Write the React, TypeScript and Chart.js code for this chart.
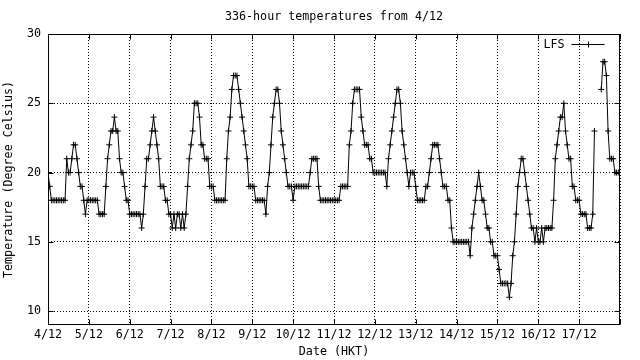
import React, { useEffect, useRef } from "react";
import { Chart, registerables } from "chart.js";

Chart.register(...registerables);

// ---- text ----
const TITLE = "336-hour temperatures from 4/12";
const SERIES_LABEL = "LFS";
const X_TITLE = "Date (HKT)";
const Y_TITLE = "Temperature (Degree Celsius)";

// ---- axes ----
const DATE_LABELS = [
  "4/12", "5/12", "6/12", "7/12", "8/12", "9/12", "10/12",
  "11/12", "12/12", "13/12", "14/12", "15/12", "16/12", "17/12",
];
const HOURS_PER_DAY = 24;
const TOTAL_HOURS = 336;
const Y_MIN = 9;
const Y_MAX = 30;
const Y_TICKS = [10, 15, 20, 25, 30];

// ---- hourly temperatures (deg C), one array per day ----
const T_04_12 = [20, 19, 18, 18, 18, 18, 18, 18, 18, 18, 18, 21, 20, 20, 21, 22, 22, 21, 20, 19, 19, 18, 17, 18];
const T_05_12 = [18, 18, 18, 18, 18, 18, 17, 17, 17, 17, 19, 21, 22, 23, 23, 24, 23, 23, 21, 20, 20, 19, 18, 18];
const T_06_12 = [17, 17, 17, 17, 17, 17, 17, 16, 17, 19, 21, 21, 22, 23, 24, 23, 22, 21, 19, 19, 19, 18, 18, 17];
const T_07_12 = [17, 16, 17, 16, 17, 17, 16, 17, 16, 17, 19, 21, 22, 23, 25, 25, 25, 24, 22, 22, 21, 21, 21, 19];
const T_08_12 = [19, 19, 18, 18, 18, 18, 18, 18, 18, 21, 23, 24, 26, 27, 27, 27, 26, 25, 24, 23, 22, 21, 19, 19];
const T_09_12 = [19, 19, 18, 18, 18, 18, 18, 18, 17, 19, 20, 22, 24, 25, 26, 26, 25, 23, 22, 21, 20, 19, 19, 19];
const T_10_12 = [18, 19, 19, 19, 19, 19, 19, 19, 19, 19, 20, 21, 21, 21, 21, 19, 18, 18, 18, 18, 18, 18, 18, 18];
const T_11_12 = [18, 18, 18, 18, 19, 19, 19, 19, 19, 22, 23, 25, 26, 26, 26, 26, 24, 23, 22, 22, 22, 21, 21, 20];
const T_12_12 = [20, 20, 20, 20, 20, 20, 20, 19, 21, 22, 23, 24, 25, 26, 26, 25, 23, 22, 21, 20, 19, 20, 20, 20];
const T_13_12 = [19, 18, 18, 18, 18, 18, 19, 19, 20, 21, 22, 22, 22, 22, 21, 20, 19, 19, 19, 18, 18, 16, 15, 15];
const T_14_12 = [15, 15, 15, 15, 15, 15, 15, 15, 14, 16, 17, 18, 19, 20, 19, 18, 18, 17, 16, 16, 15, 15, 14, 14];
const T_15_12 = [14, 13, 12, 12, 12, 12, 12, 11, 12, 14, 15, 17, 19, 20, 21, 21, 20, 19, 18, 17, 16, 16, 15, 16];
const T_16_12 = [15, 15, 16, 15, 16, 16, 16, 16, 16, 18, 21, 22, 23, 24, 24, 25, 23, 22, 21, 21, 19, 19, 18, 18];
const T_17_12 = [18, 17, 17, 17, 17, 16, 16, 16, 17, 23, null, null, null, 26, 28, 28, 27, 23, 21, 21, 21, 20, 20, 20, 20];

const LFS_TEMPS: (number | null)[] = [
  ...T_04_12, ...T_05_12, ...T_06_12, ...T_07_12, ...T_08_12, ...T_09_12, ...T_10_12,
  ...T_11_12, ...T_12_12, ...T_13_12, ...T_14_12, ...T_15_12, ...T_16_12, ...T_17_12,
];

const FONT_FAMILY = "'DejaVu Sans Mono', monospace";
const FONT_SIZE = 11.7;

const gnuplotFrame = {
  id: "gnuplotFrame",
  afterDatasetsDraw(chart: any) {
    const { ctx, chartArea, scales } = chart;
    const xs = scales.x;
    const ys = scales.y;
    const L = Math.round(chartArea.left) + 0.5;
    const R = Math.round(chartArea.right) - 0.5;
    const T = Math.round(chartArea.top) + 0.5;
    const B = Math.round(chartArea.bottom) - 0.5;
    const TL = 5;
    ctx.save();
    ctx.setLineDash([]);
    ctx.strokeStyle = "#000";
    ctx.lineWidth = 1;
    ctx.strokeRect(L, T, R - L, B - T);
    ctx.beginPath();
    xs.ticks.forEach((t: any) => {
      const px = Math.round(xs.getPixelForValue(t.value)) + 0.5;
      ctx.moveTo(px, B);
      ctx.lineTo(px, B - TL);
      ctx.moveTo(px, T);
      ctx.lineTo(px, T + TL);
    });
    ys.ticks.forEach((t: any) => {
      const py = Math.round(ys.getPixelForValue(t.value)) + 0.5;
      ctx.moveTo(L, py);
      ctx.lineTo(L + TL, py);
      ctx.moveTo(R, py);
      ctx.lineTo(R - TL, py);
    });
    ctx.stroke();

    // key (legend), gnuplot style: label then sample line with point
    const ds = chart.data.datasets[0];
    const ky = Math.round(T + 9) + 0.5;
    ctx.fillStyle = "#000";
    ctx.font = `${FONT_SIZE}px ${FONT_FAMILY}`;
    ctx.textAlign = "right";
    ctx.textBaseline = "middle";
    ctx.fillText(ds.label, R - 55, ky);
    const x1 = R - 48;
    const x2 = R - 15;
    const xm = Math.round((x1 + x2) / 2) + 0.5;
    ctx.beginPath();
    ctx.moveTo(x1, ky);
    ctx.lineTo(x2, ky);
    ctx.moveTo(xm, ky - 3);
    ctx.lineTo(xm, ky + 3);
    ctx.stroke();
    ctx.restore();
  },
};

export default function App() {
  const canvasRef = useRef<HTMLCanvasElement | null>(null);

  useEffect(() => {
    const canvas = canvasRef.current;
    if (!canvas) return;
    const font = { family: FONT_FAMILY, size: FONT_SIZE, weight: "normal" as const };
    const chart = new Chart(canvas, {
      type: "line",
      data: {
        datasets: [
          {
            label: SERIES_LABEL,
            data: LFS_TEMPS.map((v, i) => ({ x: i, y: v })) as any,
            borderColor: "#000",
            backgroundColor: "#000",
            borderWidth: 1,
            pointStyle: "cross",
            pointRadius: 3,
            pointHoverRadius: 3,
            pointBorderWidth: 1,
            pointBorderColor: "#000",
            tension: 0,
            spanGaps: false,
            fill: false,
          },
        ],
      },
      options: {
        responsive: false,
        animation: false,
        devicePixelRatio: 1,
        events: [],
        layout: { padding: { left: 0, right: 20, top: 0, bottom: 0 } },
        plugins: {
          legend: { display: false },
          tooltip: { enabled: false },
          title: {
            display: true,
            text: TITLE,
            color: "#000",
            font,
            fullSize: false,
            padding: { top: 10, bottom: 9.96 },
          },
        },
        scales: {
          x: {
            type: "linear",
            min: 0,
            max: TOTAL_HOURS,
            afterBuildTicks: (s: any) => {
              const ticks = [];
              for (let v = 0; v <= TOTAL_HOURS; v += HOURS_PER_DAY) ticks.push({ value: v });
              s.ticks = ticks;
            },
            afterFit: (s: any) => {
              s.height = 35;
            },
            grid: { color: "#000", lineWidth: 1, drawTicks: false },
            border: { display: false, dash: [1, 2] },
            ticks: {
              autoSkip: false,
              maxRotation: 0,
              minRotation: 0,
              padding: 3,
              color: "#000",
              font,
              callback: (v: any) => DATE_LABELS[Math.round(Number(v) / HOURS_PER_DAY)] ?? "",
            },
            title: {
              display: true,
              text: X_TITLE,
              color: "#000",
              font,
              padding: { top: 0, bottom: 1 },
            },
          },
          y: {
            type: "linear",
            min: Y_MIN,
            max: Y_MAX,
            afterBuildTicks: (s: any) => {
              s.ticks = Y_TICKS.map((v) => ({ value: v }));
            },
            afterFit: (s: any) => {
              s.width = 48;
            },
            grid: { color: "#000", lineWidth: 1, drawTicks: false },
            border: { display: false, dash: [1, 2] },
            ticks: {
              padding: 7,
              color: "#000",
              font,
              callback: (v: any) => String(v),
            },
            title: {
              display: true,
              text: Y_TITLE,
              color: "#000",
              font,
              padding: { top: 2, bottom: 0 },
            },
          },
        },
      },
      plugins: [gnuplotFrame],
    });
    return () => chart.destroy();
  }, []);

  return (
    <div style={{ position: "fixed", left: 0, top: 0, width: 640, height: 360, background: "#fff" }}>
      <canvas ref={canvasRef} width={640} height={360} style={{ display: "block", width: 640, height: 360 }} />
    </div>
  );
}
